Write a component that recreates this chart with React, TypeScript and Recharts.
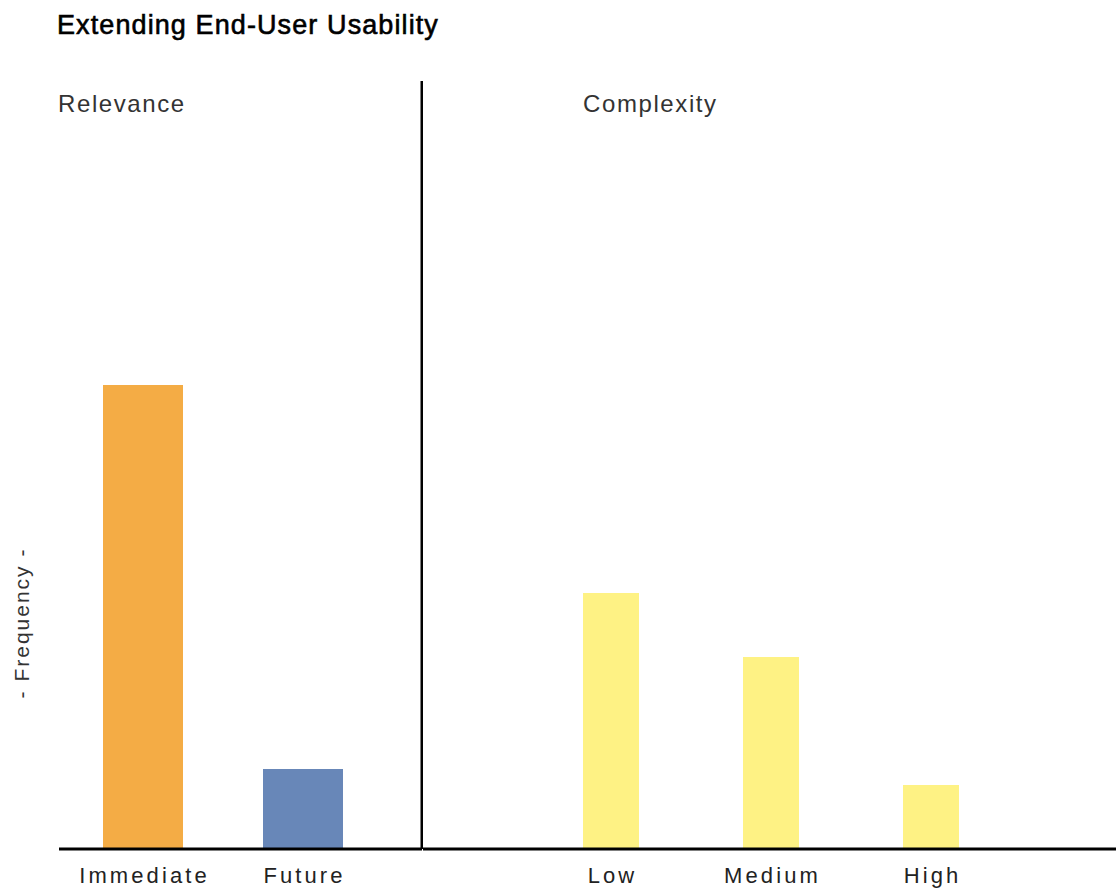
import React from 'react';
import { BarChart, Bar, XAxis, YAxis, Cell } from 'recharts';

const relevanceCategories = ['Immediate', 'Future'];
const relevanceValues = [29, 5];
const relevanceColors = ['#F4AC45', '#6887B8'];

const complexityCategories = ['Low', 'Medium', 'High'];
const complexityValues = [16, 12, 4];
const complexityColor = '#FEF284';

const yDomain = [0, 48];

const relevanceData = relevanceCategories.map((name, i) => ({ name, value: relevanceValues[i] }));
const complexityData = complexityCategories.map((name, i) => ({ name, value: complexityValues[i] }));

const FONT = '"Liberation Sans", Arial, sans-serif';

const CategoryTick = (props: any) => {
  const { x, y, payload } = props;
  return (
    <text
      x={x + 1.5}
      y={y + 26}
      textAnchor="middle"
      fontFamily={FONT}
      fontSize={22}
      letterSpacing={3.1}
      fill="#222"
    >
      {payload.value}
    </text>
  );
};

const panelLabel: React.CSSProperties = {
  position: 'absolute',
  top: 92,
  fontSize: 24,
  lineHeight: '24px',
  letterSpacing: 1.6,
  color: '#333',
  whiteSpace: 'nowrap',
};

const App: React.FC = () => {
  return (
    <div
      style={{
        position: 'absolute',
        left: 0,
        top: 0,
        width: 1116,
        height: 888,
        background: '#fff',
        fontFamily: FONT,
        overflow: 'hidden',
      }}
    >
      <div
        style={{
          position: 'absolute',
          left: 57,
          top: 12,
          fontSize: 27,
          lineHeight: '27px',
          letterSpacing: 1.1,
          color: '#000',
          WebkitTextStroke: '0.6px #000',
          whiteSpace: 'nowrap',
        }}
      >
        Extending End-User Usability
      </div>
      <div style={{ ...panelLabel, left: 58 }}>Relevance</div>
      <div style={{ ...panelLabel, left: 583 }}>Complexity</div>
      <div
        style={{
          position: 'absolute',
          left: 21,
          top: 623,
          fontSize: 21,
          lineHeight: '21px',
          letterSpacing: 2,
          color: '#333',
          whiteSpace: 'nowrap',
          transform: 'translate(-50%, -50%) rotate(-90deg)',
        }}
      >
        - Frequency -
      </div>

      {/* left panel: relevance */}
      <div style={{ position: 'absolute', left: 0, top: 0 }}>
        <BarChart
          width={423}
          height={888}
          data={relevanceData}
          margin={{ top: 81, right: 0, bottom: 9, left: 59 }}
        >
          <XAxis
            dataKey="name"
            height={30}
            interval={0}
            tickLine={false}
            axisLine={{ stroke: '#000', strokeWidth: 3 }}
            padding={{ left: 4, right: 39 }}
            tick={<CategoryTick />}
          />
          <YAxis
            orientation="right"
            width={1}
            domain={yDomain}
            allowDataOverflow
            tick={false}
            tickLine={false}
            axisLine={{ stroke: '#000', strokeWidth: 3 }}
          />
          <Bar dataKey="value" barSize={80} isAnimationActive={false}>
            {relevanceData.map((d, i) => (
              <Cell key={d.name} fill={relevanceColors[i]} />
            ))}
          </Bar>
        </BarChart>
      </div>

      {/* right panel: complexity */}
      <div style={{ position: 'absolute', left: 423, top: 0 }}>
        <BarChart
          width={693}
          height={888}
          data={complexityData}
          margin={{ top: 81, right: 0, bottom: 9, left: 0 }}
        >
          <XAxis
            dataKey="name"
            height={30}
            interval={0}
            tickLine={false}
            axisLine={{ stroke: '#000', strokeWidth: 3 }}
            padding={{ left: 108, right: 105 }}
            tick={<CategoryTick />}
          />
          <YAxis hide domain={yDomain} allowDataOverflow />
          <Bar dataKey="value" barSize={56} fill={complexityColor} isAnimationActive={false} />
        </BarChart>
      </div>
    </div>
  );
};

export default App;
